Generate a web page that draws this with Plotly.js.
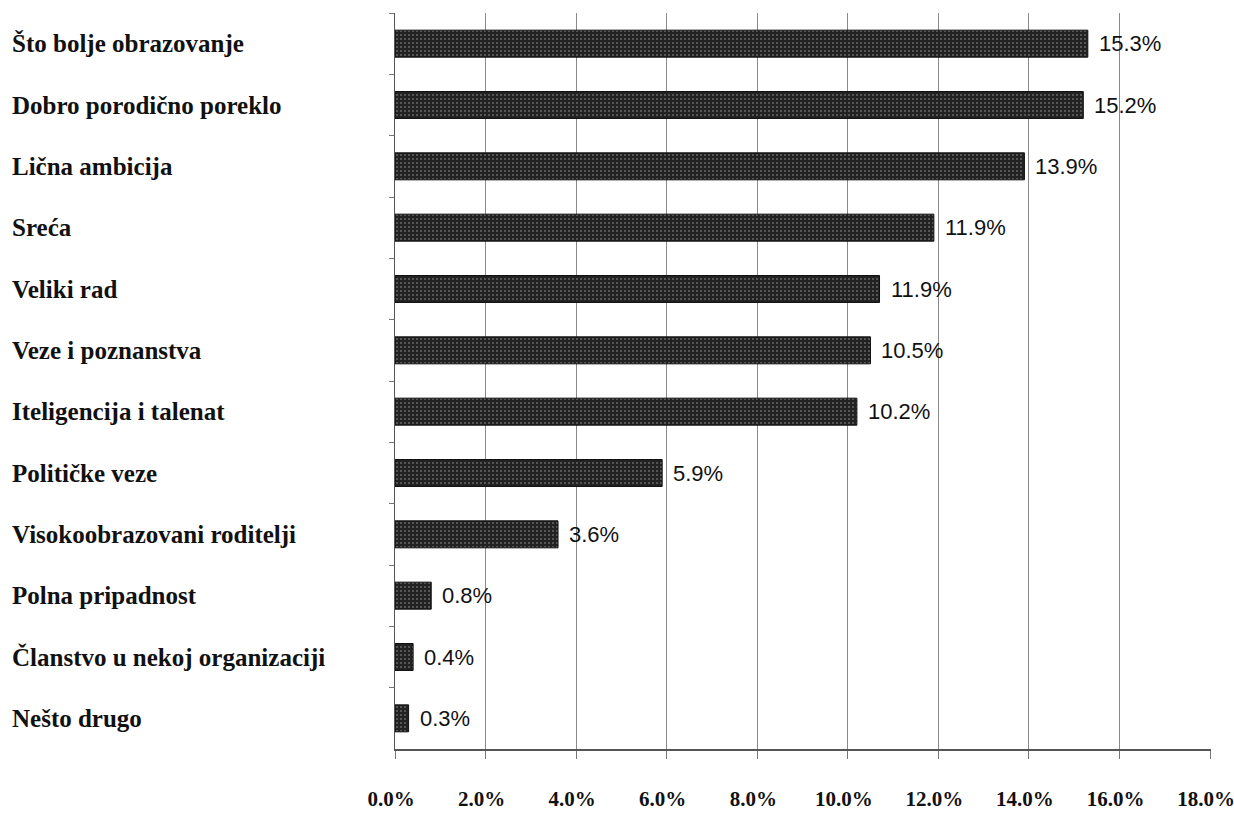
<!DOCTYPE html>
<html>
<head>
<meta charset="utf-8">
<script src="https://cdn.plot.ly/plotly-3.0.1.min.js"></script>
<style>
  html, body { margin: 0; padding: 0; background: #ffffff; }
  #chart { width: 1234px; height: 815px; }
</style>
</head>
<body>
<div id="chart"></div>
<script>
// Categories, top to bottom
const categories = [
  "Što bolje obrazovanje",
  "Dobro porodično poreklo",
  "Lična ambicija",
  "Sreća",
  "Veliki rad",
  "Veze i poznanstva",
  "Iteligencija i talenat",
  "Političke veze",
  "Visokoobrazovani roditelji",
  "Polna pripadnost",
  "Članstvo u nekoj organizaciji",
  "Nešto drugo"
];
// Bar lengths (percent)
const values = [15.3, 15.2, 13.9, 11.9, 10.7, 10.5, 10.2, 5.9, 3.6, 0.8, 0.4, 0.3];
// Value labels printed next to the bars
const valueLabels = ["15.3%", "15.2%", "13.9%", "11.9%", "11.9%", "10.5%", "10.2%", "5.9%", "3.6%", "0.8%", "0.4%", "0.3%"];
// X axis ticks
const tickValues = [0, 2, 4, 6, 8, 10, 12, 14, 16, 18];
const tickLabels = ["0.0%", "2.0%", "4.0%", "6.0%", "8.0%", "10.0%", "12.0%", "14.0%", "16.0%", "18.0%"];

const trace = {
  type: "bar",
  orientation: "h",
  x: values,
  y: categories,
  marker: {
    color: "#222222",
    line: { color: "#111111", width: 1 },
    pattern: { shape: ".", fgcolor: "#666666", bgcolor: "#222222", size: 4, solidity: 0.2 }
  },
  hoverinfo: "none",
  showlegend: false
};

const annotations = [];
categories.forEach((c, i) => {
  annotations.push({
    xref: "paper", yref: "y",
    x: -0.472, y: c,
    xanchor: "left", yanchor: "middle",
    text: c, showarrow: false,
    font: { family: "Liberation Serif", size: 25, color: "#111", weight: 700 }
  });
  annotations.push({
    xref: "x", yref: "y",
    x: values[i], y: c,
    xanchor: "left", yanchor: "middle",
    xshift: 9,
    text: valueLabels[i], showarrow: false,
    font: { family: "Liberation Sans", size: 22, color: "#111" }
  });
});

const layout = {
  width: 1234, height: 815,
  margin: { l: 395, r: 23, t: 13, b: 66 },
  paper_bgcolor: "#ffffff",
  plot_bgcolor: "#ffffff",
  bargap: 0.56,
  xaxis: {
    range: [0, 18.02],
    tickvals: tickValues,
    ticktext: tickLabels,
    showgrid: true, gridcolor: "#8a8a8a", gridwidth: 1,
    zeroline: false,
    showline: true, linecolor: "#555", linewidth: 1.5,
    ticks: "outside", ticklen: 8, tickcolor: "#777",
    ticklabelstandoff: 22,
    ticklabelshift: -4,
    ticklabeloverflow: "allow",
    tickfont: { family: "Liberation Serif", size: 21, color: "#111", weight: 700 },
    fixedrange: true
  },
  yaxis: {
    categoryorder: "array", categoryarray: categories,
    autorange: "reversed",
    showticklabels: false,
    showgrid: false, zeroline: false,
    showline: true, linecolor: "#555", linewidth: 1.5,
    ticks: "outside", tickson: "boundaries", ticklen: 5, tickcolor: "#777",
    fixedrange: true
  },
  annotations: annotations
};

Plotly.newPlot("chart", [trace], layout, { displayModeBar: false, staticPlot: true });
</script>
</body>
</html>
